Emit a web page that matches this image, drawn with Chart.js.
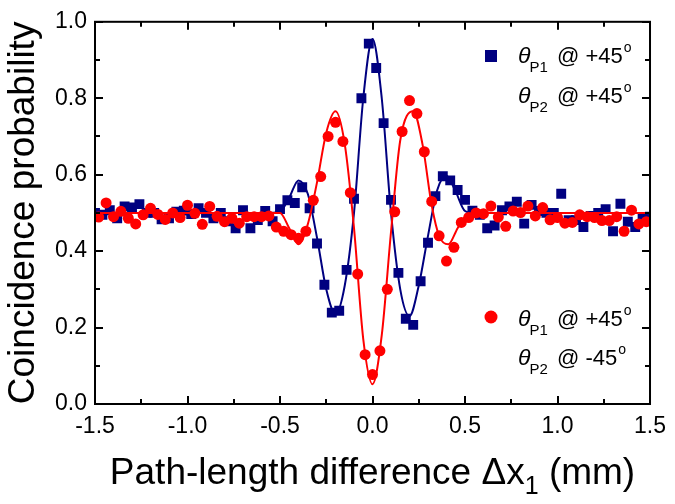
<!DOCTYPE html>
<html>
<head>
<meta charset="utf-8">
<script src="https://cdn.jsdelivr.net/npm/chart.js@4/dist/chart.umd.min.js"></script>
<style>
  html, body { margin: 0; padding: 0; background: #fff; }
</style>
</head>
<body>
<canvas id="chart" width="675" height="504"></canvas>
<script>
// measured points, blue squares (θP1 @ +45°, θP2 @ +45°)
const blueX = [-1.50, -1.46, -1.42, -1.38, -1.34, -1.30, -1.26, -1.22, -1.18, -1.14,
  -1.10, -1.06, -1.02, -0.98, -0.94, -0.90, -0.86, -0.82, -0.78, -0.74,
  -0.70, -0.66, -0.62, -0.58, -0.54, -0.50, -0.46, -0.42, -0.38, -0.34,
  -0.30, -0.26, -0.22, -0.18, -0.14, -0.10, -0.06, -0.02, 0.02, 0.06,
  0.10, 0.14, 0.18, 0.22, 0.26, 0.30, 0.34, 0.38, 0.42, 0.46,
  0.50, 0.54, 0.58, 0.62, 0.66, 0.70, 0.74, 0.78, 0.82, 0.86,
  0.90, 0.94, 0.98, 1.02, 1.06, 1.10, 1.14, 1.18, 1.22, 1.26,
  1.30, 1.34, 1.38, 1.42, 1.46, 1.50];
const blueY = [0.500, 0.495, 0.507, 0.486, 0.517, 0.514, 0.523, 0.500, 0.500, 0.483,
  0.486, 0.503, 0.506, 0.497, 0.512, 0.500, 0.486, 0.500, 0.478, 0.460,
  0.507, 0.460, 0.481, 0.505, 0.478, 0.510, 0.533, 0.526, 0.567, 0.512,
  0.420, 0.312, 0.239, 0.244, 0.351, 0.537, 0.800, 0.943, 0.879, 0.735,
  0.534, 0.343, 0.223, 0.207, 0.321, 0.422, 0.544, 0.596, 0.585, 0.560,
  0.534, 0.506, 0.495, 0.460, 0.467, 0.507, 0.517, 0.529, 0.472, 0.521,
  0.505, 0.500, 0.500, 0.550, 0.481, 0.481, 0.463, 0.492, 0.500, 0.510,
  0.452, 0.524, 0.477, 0.463, 0.488, 0.490];

// measured points, red circles (θP1 @ +45°, θP2 @ -45°)
const redX = [-1.48, -1.44, -1.40, -1.36, -1.32, -1.28, -1.24, -1.20, -1.16, -1.12,
  -1.08, -1.04, -1.00, -0.96, -0.92, -0.88, -0.84, -0.80, -0.76, -0.72,
  -0.68, -0.64, -0.60, -0.56, -0.52, -0.48, -0.44, -0.40, -0.36, -0.32,
  -0.28, -0.24, -0.20, -0.16, -0.12, -0.08, -0.04, 0.00, 0.04, 0.08,
  0.12, 0.16, 0.20, 0.24, 0.28, 0.32, 0.36, 0.40, 0.44, 0.48,
  0.52, 0.56, 0.60, 0.64, 0.68, 0.72, 0.76, 0.80, 0.84, 0.88,
  0.92, 0.96, 1.00, 1.04, 1.08, 1.12, 1.16, 1.20, 1.24, 1.28,
  1.32, 1.36, 1.40, 1.44, 1.48];
const redY = [0.489, 0.526, 0.490, 0.504, 0.486, 0.471, 0.495, 0.512, 0.496, 0.483,
  0.500, 0.488, 0.520, 0.499, 0.470, 0.517, 0.491, 0.477, 0.486, 0.473,
  0.490, 0.490, 0.490, 0.492, 0.463, 0.452, 0.443, 0.434, 0.452, 0.533,
  0.595, 0.700, 0.737, 0.687, 0.553, 0.340, 0.129, 0.077, 0.139, 0.300,
  0.503, 0.713, 0.794, 0.760, 0.660, 0.530, 0.440, 0.374, 0.410, 0.475,
  0.488, 0.500, 0.498, 0.518, 0.489, 0.465, 0.505, 0.501, 0.518, 0.492,
  0.514, 0.482, 0.488, 0.473, 0.475, 0.495, 0.490, 0.488, 0.480, 0.480,
  0.490, 0.452, 0.507, 0.471, 0.477];

// fitted curves
const blueFitX = [-1.5, -0.55, -0.5, -0.45, -0.4, -0.35, -0.3, -0.25, -0.2, -0.15, -0.1, -0.05,
  0, 0.05, 0.1, 0.15, 0.2, 0.25, 0.3, 0.35, 0.4, 0.45, 0.5, 0.55, 1.5];
const blueFitY = [0.5, 0.5, 0.503, 0.54, 0.585, 0.55, 0.435, 0.30, 0.235, 0.31, 0.50, 0.80,
  0.955, 0.80, 0.50, 0.30, 0.23, 0.31, 0.44, 0.56, 0.597, 0.555, 0.505, 0.5, 0.5];
const redFitX = [-1.5, -0.5, -0.45, -0.4, -0.35, -0.3, -0.25, -0.2, -0.15, -0.1, -0.05,
  0, 0.05, 0.1, 0.15, 0.22, 0.27, 0.32, 0.36, 0.41, 0.46, 0.5, 0.55, 1.5];
const redFitY = [0.5, 0.5, 0.46, 0.418, 0.47, 0.58, 0.71, 0.766, 0.68, 0.46, 0.17,
  0.052, 0.18, 0.45, 0.69, 0.766, 0.68, 0.52, 0.44, 0.418, 0.46, 0.49, 0.5, 0.5];

const xTicks = [-1.5, -1.0, -0.5, 0, 0.5, 1.0, 1.5];
const xMinorTicks = [-1.25, -0.75, -0.25, 0.25, 0.75, 1.25];
const yTicks = [0, 0.2, 0.4, 0.6, 0.8, 1.0];
const yMinorTicks = [0.1, 0.3, 0.5, 0.7, 0.9];

const NAVY = '#000080';
const RED = '#ff0000';
const FONT = '"Liberation Sans", Arial, sans-serif';

const pts = (xs, ys) => xs.map((x, i) => ({x: x, y: ys[i]}));

// box round the plot, ticks pointing inwards on all four sides
const frame = {
  id: 'frame',
  afterDatasetsDraw(chart) {
    const {ctx, chartArea: a, scales: {x, y}} = chart;
    ctx.save();
    ctx.strokeStyle = '#000';
    ctx.lineWidth = 2;
    ctx.beginPath();
    const xt = (vals, len) => vals.forEach(v => {
      const px = Math.round(x.getPixelForValue(v));
      ctx.moveTo(px, a.bottom); ctx.lineTo(px, a.bottom - len);
      ctx.moveTo(px, a.top); ctx.lineTo(px, a.top + len);
    });
    const yt = (vals, len) => vals.forEach(v => {
      const py = Math.round(y.getPixelForValue(v));
      ctx.moveTo(a.left, py); ctx.lineTo(a.left + len, py);
      ctx.moveTo(a.right, py); ctx.lineTo(a.right - len, py);
    });
    xt(xTicks, 8); xt(xMinorTicks, 5);
    yt(yTicks, 8); yt(yMinorTicks, 5);
    ctx.stroke();
    ctx.strokeRect(a.left, a.top, a.right - a.left, a.bottom - a.top);
    ctx.restore();
  }
};

function theta(ctx, x, y, sub, rest) {
  ctx.font = 'italic 23px ' + FONT;
  ctx.fillText('θ', x, y);
  let cx = x + ctx.measureText('θ').width - 1;
  ctx.font = '15px ' + FONT;
  ctx.fillText(sub, cx, y + 9);
  cx += ctx.measureText(sub).width + 3;
  ctx.font = '22px ' + FONT;
  ctx.fillText(rest, cx, y);
  cx += ctx.measureText(rest).width + 1;
  ctx.font = '14px ' + FONT;
  ctx.fillText('o', cx, y - 11);
}

// in-plot legends and the x axis title (with its subscript)
const labels = {
  id: 'labels',
  afterDraw(chart) {
    const {ctx, chartArea: a} = chart;
    ctx.save();
    ctx.textBaseline = 'alphabetic';
    ctx.textAlign = 'left';

    ctx.fillStyle = NAVY;
    ctx.fillRect(485, 50, 12, 12);
    ctx.fillStyle = RED;
    ctx.beginPath();
    ctx.arc(491, 317, 6.5, 0, Math.PI * 2);
    ctx.fill();

    ctx.fillStyle = '#000';
    theta(ctx, 518, 63, 'P1', ' @ +45');
    theta(ctx, 518, 103, 'P2', ' @ +45');
    theta(ctx, 518, 326, 'P1', ' @ +45');
    theta(ctx, 518, 365, 'P2', ' @ -45');

    const t1 = 'Path-length difference Δx', t2 = ' (mm)', sub = '1';
    ctx.font = '37px ' + FONT;
    const w1 = ctx.measureText(t1).width, w2 = ctx.measureText(t2).width;
    ctx.font = '25px ' + FONT;
    const ws = ctx.measureText(sub).width;
    let cx = (a.left + a.right) / 2 - (w1 + ws + w2) / 2;
    const by = 484;
    ctx.font = '37px ' + FONT;
    ctx.fillText(t1, cx, by);
    cx += w1;
    ctx.font = '25px ' + FONT;
    ctx.fillText(sub, cx, by + 10);
    cx += ws;
    ctx.font = '37px ' + FONT;
    ctx.fillText(t2, cx, by);
    ctx.restore();
  }
};

new Chart(document.getElementById('chart'), {
  type: 'scatter',
  data: {
    datasets: [
      {
        data: pts(redFitX, redFitY),
        showLine: true,
        borderColor: RED,
        borderWidth: 2,
        pointRadius: 0,
        cubicInterpolationMode: 'monotone',
        clip: 0
      },
      {
        data: pts(redX, redY),
        pointStyle: 'circle',
        pointRadius: 5.5,
        backgroundColor: RED,
        borderWidth: 0,
        clip: 0
      },
      {
        data: pts(blueFitX, blueFitY),
        showLine: true,
        borderColor: NAVY,
        borderWidth: 2,
        pointRadius: 0,
        cubicInterpolationMode: 'monotone',
        clip: 0
      },
      {
        data: pts(blueX, blueY),
        pointStyle: 'rect',
        pointRadius: 7,
        backgroundColor: NAVY,
        borderWidth: 0,
        clip: 0
      }
    ]
  },
  options: {
    responsive: false,
    devicePixelRatio: 1,
    animation: false,
    layout: { padding: { top: 15, right: 22, left: 0, bottom: 0 } },
    plugins: { legend: { display: false }, tooltip: { enabled: false } },
    scales: {
      x: {
        type: 'linear',
        min: -1.5,
        max: 1.5,
        afterBuildTicks: s => { s.ticks = xTicks.map(v => ({value: v})); },
        afterFit: s => { s.height = 100; },
        grid: { display: false, drawTicks: false },
        border: { display: false },
        ticks: {
          padding: 9,
          color: '#000',
          font: { family: FONT, size: 23 },
          callback: v => v.toFixed(1)
        }
      },
      y: {
        min: 0,
        max: 1,
        afterBuildTicks: s => { s.ticks = yTicks.map(v => ({value: v})); },
        afterFit: s => { s.width = 95; },
        grid: { display: false, drawTicks: false },
        border: { display: false },
        ticks: {
          padding: 8,
          color: '#000',
          font: { family: FONT, size: 23 },
          callback: v => v.toFixed(1)
        },
        title: {
          display: true,
          text: 'Coincidence probability',
          color: '#000',
          font: { family: FONT, size: 37 },
          padding: { top: 2, bottom: 0 }
        }
      }
    }
  },
  plugins: [frame, labels]
});
</script>
</body>
</html>
